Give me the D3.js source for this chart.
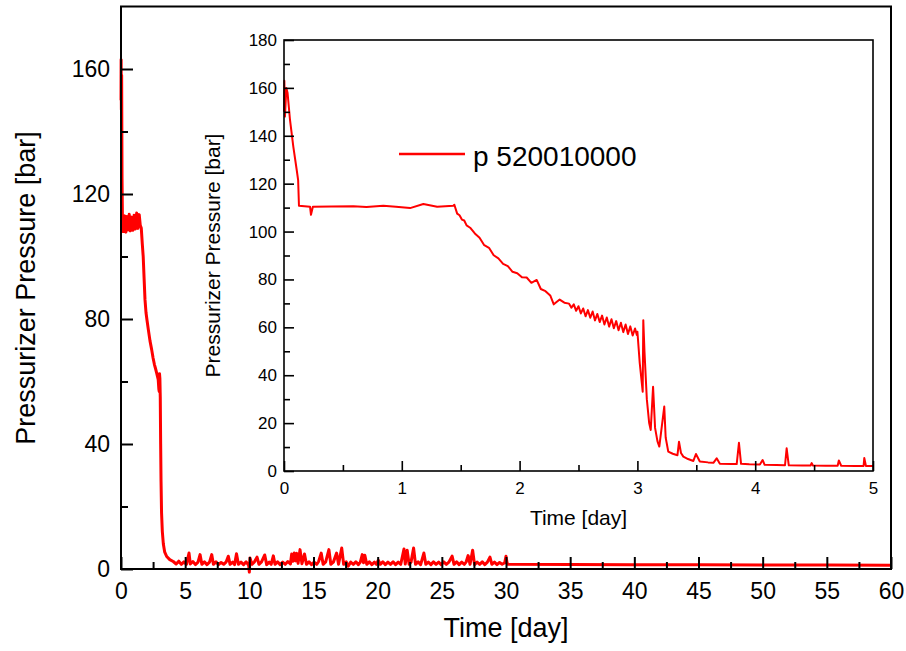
<!DOCTYPE html>
<html>
<head>
<meta charset="utf-8">
<script src="https://cdn.jsdelivr.net/npm/d3@7"></script>
<style>
  html, body { margin: 0; padding: 0; background: #fff; }
  svg { display: block; }
  text { font-family: "Liberation Sans", Arial, sans-serif; fill: #000; }
</style>
</head>
<body>
<svg id="chart" width="906" height="651"></svg>
<script>
// ---------------- DATA ----------------
const seriesName = "p 520010000";
const xTitle = "Time [day]";
const yTitle = "Pressurizer Pressure [bar]";

// main chart: full transient (0 - 60 days)
const mainTime = [
  0.00, 0.01, 0.03, 0.05, 0.08, 0.12,
  0.15, 0.22, 0.30, 0.38, 0.46, 0.55, 0.64, 0.72, 0.82, 0.92, 1.02, 1.12, 1.22, 1.32, 1.42, 1.50, 1.58,
  1.66, 1.73, 1.80, 1.87, 1.95, 2.03, 2.13, 2.26, 2.39, 2.50, 2.60, 2.70, 2.78, 2.85, 2.90, 2.95, 2.98,
  3.00, 3.03, 3.06, 3.09, 3.12, 3.16, 3.22, 3.30, 3.40, 3.56, 3.80, 4.07,
  4.3, 4.5, 4.7, 4.9, 5.1, 5.3, 5.4, 5.6, 5.8, 6.0, 6.16, 6.3, 6.5, 6.7, 6.9, 7.07, 7.2, 7.4, 7.6, 7.8,
  8.0, 8.2, 8.36, 8.5, 8.7, 8.85, 9.0, 9.15, 9.35, 9.55, 9.75, 9.95, 10.0, 10.05, 10.2, 10.4, 10.6, 10.75,
  10.95, 11.2, 11.35, 11.55, 11.7, 11.87, 12.0, 12.2, 12.4, 12.6, 12.8, 13.0, 13.2, 13.3, 13.4, 13.5, 13.6,
  13.7, 13.8, 13.95, 14.1, 14.3, 14.45, 14.65, 14.85, 15.05, 15.25, 15.4, 15.6, 15.75, 15.95, 16.2, 16.35,
  16.55, 16.8, 16.95, 17.2, 17.35, 17.55, 17.7, 17.9, 18.1, 18.3, 18.5, 18.65, 18.8, 18.9, 19.0, 19.15,
  19.35, 19.55, 19.75, 19.9, 20.05, 20.2, 20.4, 20.6, 20.8, 21.0, 21.2, 21.4, 21.6, 21.8, 22.05, 22.15,
  22.3, 22.45, 22.6, 22.8, 22.95, 23.15, 23.35, 23.6, 23.75, 23.95, 24.15, 24.35, 24.55, 24.75, 24.95,
  25.15, 25.35, 25.55, 25.8, 25.95, 26.15, 26.35, 26.55, 26.75, 26.9, 27.05, 27.2, 27.4, 27.55, 27.75,
  27.95, 28.15, 28.35, 28.55, 28.75, 28.9, 29.1, 29.3, 29.5, 29.7, 29.9, 30.0, 30.1,
  35, 40, 45, 50, 55, 60
];
const mainPressure = [
  150, 163, 147, 158, 125, 108,
  112.5, 108, 113, 107.8, 112.8, 108.5, 113.5, 108.2, 112.6, 108.4, 113.2, 108.8, 113.9, 109, 113.4, 110, 109.1,
  104, 100, 93, 86.2, 82, 79.5, 76.6, 73, 70.2, 67.5, 65.5, 64, 62.7, 61.5, 60.6, 57.5, 56.8,
  62.5, 61, 55, 40, 28, 18, 12, 8, 5.5, 4, 3.0, 2.4,
  1.6, 2.5, 1.5, 2.3, 1.5, 5.1, 1.6, 2.4, 1.4, 2.2, 4.6, 1.5, 2.3, 1.4, 2.2, 4.6, 1.5, 2.3, 1.4, 2.1,
  1.5, 2.3, 4.1, 1.5, 2.2, 1.4, 4.9, 1.5, 2.2, 1.4, 2.3, 1.2, -1.0, 3.5, 1.5, 2.3, 3.8, 1.5,
  2.3, 4.5, 1.4, 2.2, 1.5, 4.2, 1.5, 2.3, 1.4, 2.2, 1.5, 2.4, 1.6, 4.8, 2.5, 5.1, 2.6,
  5.0, 1.8, 6.2, 1.7, 4.8, 1.5, 2.3, 1.4, 2.2, 1.5, 2.4, 5.1, 1.5, 2.3, 6.2, 1.5,
  2.2, 5.1, 1.5, 6.7, 1.5, 2.3, 0.9, 2.2, 1.5, 2.3, 1.4, 2.2, 4.6, 2.0, 4.4, 1.5,
  2.3, 1.4, 2.2, 1.5, 2.8, 1.5, 2.3, 1.4, 2.2, 1.5, 2.3, 1.4, 2.2, 1.5, 6.4, 1.6,
  6.0, 1.5, 2.2, 6.7, 1.5, 2.3, 1.4, 5.1, 1.5, 2.2, 1.4, 2.3, 1.5, 2.2, 1.4,
  2.3, 1.5, 2.2, 4.1, 1.5, 2.3, 1.4, 2.2, 1.5, 2.3, 4.3, 1.5, 6.0, 1.4, 2.2,
  1.5, 2.3, 1.4, 2.2, 3.8, 1.5, 2.2, 1.4, 2.1, 1.5, 2.0, 4.1, 1.5,
  1.45, 1.4, 1.35, 1.3, 1.25, 1.2
];

// inset: first five days
const insetTime = [
  0.000, 0.003, 0.008, 0.020, 0.030, 0.051, 0.079, 0.108, 0.120, 0.127,
  0.221, 0.229, 0.245, 0.400, 0.589, 0.700, 0.843, 0.950, 1.070, 1.183, 1.300, 1.437,
  1.446, 1.470, 1.490, 1.510, 1.530, 1.550, 1.580, 1.620, 1.660, 1.700, 1.740, 1.780, 1.820, 1.860,
  1.900, 1.940, 1.980, 2.020, 2.060, 2.100, 2.145, 2.180, 2.220, 2.260, 2.290, 2.340, 2.380,
  2.420, 2.440, 2.460, 2.480, 2.500, 2.520, 2.540, 2.560, 2.580, 2.600, 2.620, 2.640, 2.660, 2.680,
  2.700, 2.720, 2.740, 2.760, 2.780, 2.800, 2.820, 2.840, 2.860, 2.880, 2.900, 2.920, 2.940, 2.960,
  2.980, 2.995,
  3.000, 3.020, 3.045, 3.050, 3.060, 3.080, 3.100, 3.113, 3.133, 3.150, 3.170, 3.186, 3.228, 3.240,
  3.262, 3.300, 3.340, 3.353, 3.370, 3.390, 3.430, 3.475, 3.497, 3.530, 3.600, 3.645, 3.673, 3.700,
  3.800, 3.843, 3.862, 3.880, 3.950, 4.040, 4.063, 4.080, 4.180, 4.253, 4.267, 4.285, 4.400, 4.470,
  4.479, 4.490, 4.600, 4.700, 4.710, 4.730, 4.850, 4.920, 4.926, 4.940, 5.000
];
const insetPressure = [
  150, 163, 148, 160, 158, 146.6, 135.5, 125.7, 121.5, 110.8,
  110.4, 107, 110.4, 110.5, 110.6, 110.3, 110.8, 110.4, 109.8, 111.5, 110.4, 110.8,
  111.2, 107.5, 106.8, 105.0, 104.6, 102.6, 101.6, 99.2, 97.4, 94.3, 93.2, 90.1, 88.8, 86.5,
  85.6, 83.2, 82.6, 80.9, 80.8, 78.6, 79.8, 76.0, 75.1, 73.3, 69.6, 71.6, 70.3,
  69.9, 68.2, 69.6, 66.9, 68.8, 65.8, 67.9, 64.6, 67.2, 64.0, 66.6, 62.9, 65.6, 62.2,
  64.9, 61.2, 64.1, 60.3, 63.4, 59.6, 62.6, 58.8, 61.9, 58.0, 61.2, 57.2, 60.4, 56.6,
  59.5, 56.8,
  58.2, 45, 33.1, 63, 50, 30, 20, 17.1, 35.2, 18, 12.5, 10.2, 26.9, 14,
  8.1, 7.2, 6.6, 12.2, 7.5, 6.0, 5.0, 4.2, 7.1, 4.0, 3.6, 3.4, 5.3, 3.0,
  2.9, 2.9, 11.8, 3.0, 2.8, 2.7, 4.6, 2.6, 2.5, 2.4, 9.5, 2.4, 2.3, 2.3,
  3.3, 2.3, 2.2, 2.2, 4.4, 2.2, 2.1, 2.1, 5.4, 2.1, 2.1
];

// tick values
const mainXTicks = [0, 5, 10, 15, 20, 25, 30, 35, 40, 45, 50, 55, 60];
const mainXMinor = [2.5, 7.5, 12.5, 17.5, 22.5, 27.5, 32.5, 37.5, 42.5, 47.5, 52.5, 57.5];
const mainYTicks = [0, 40, 80, 120, 160];
const mainYMinor = [20, 60, 100, 140];
const insetXTicks = [0, 1, 2, 3, 4, 5];
const insetXMinor = [0.5, 1.5, 2.5, 3.5, 4.5];
const insetYTicks = [0, 20, 40, 60, 80, 100, 120, 140, 160, 180];
const insetYMinor = [10, 30, 50, 70, 90, 110, 130, 150, 170];

// ---------------- DRAW ----------------
const svg = d3.select("#chart");
const RED = "#ff0000";

function drawAxes(g, x, y, o) {
  const [x0, x1] = x.range();
  const [y0, y1] = y.range();
  // minor ticks
  g.append("g").attr("transform", `translate(0,${y0})`)
    .call(d3.axisBottom(x).tickValues(o.xMinor).tickSize(-o.minor).tickFormat(""))
    .call(s => s.select(".domain").remove());
  g.append("g").attr("transform", `translate(${x0},0)`)
    .call(d3.axisLeft(y).tickValues(o.yMinor).tickSize(-o.minor).tickFormat(""))
    .call(s => s.select(".domain").remove());
  // major ticks with labels
  const gx = g.append("g").attr("transform", `translate(0,${y0})`)
    .call(d3.axisBottom(x).tickValues(o.xTicks).tickSize(-o.major).tickPadding(o.xPad).tickFormat(d3.format("d")));
  const gy = g.append("g").attr("transform", `translate(${x0},0)`)
    .call(d3.axisLeft(y).tickValues(o.yTicks).tickSize(-o.major).tickPadding(o.yPad).tickFormat(d3.format("d")));
  [gx, gy].forEach(a => {
    a.select(".domain").remove();
    a.selectAll("text").style("font-family", '"Liberation Sans", Arial, sans-serif')
      .style("font-size", o.font + "px").attr("fill", "#000");
  });
  g.selectAll(".tick line").attr("stroke", "#000").attr("stroke-width", o.sw);
  // frame
  g.append("rect")
    .attr("x", x0).attr("y", y1).attr("width", x1 - x0).attr("height", y0 - y1)
    .attr("fill", "none").attr("stroke", "#000").attr("stroke-width", o.sw);
}

// ---- main chart ----
const mx = d3.scaleLinear().domain([0, 60]).range([121, 891]);
const my = d3.scaleLinear().domain([0, 180]).range([569, 6.5]);
const gMain = svg.append("g");

const mainData = mainTime.map((t, i) => ({ t, p: mainPressure[i] }));
gMain.append("path")
  .datum(mainData)
  .attr("fill", "none").attr("stroke", RED).attr("stroke-width", 3).attr("stroke-linejoin", "round")
  .attr("d", d3.line().x(d => mx(d.t)).y(d => my(d.p)));

drawAxes(gMain, mx, my, {
  xTicks: mainXTicks, xMinor: mainXMinor, yTicks: mainYTicks, yMinor: mainYMinor,
  major: 12, minor: 7, xPad: 14, yPad: 11, font: 23, sw: 2
});

gMain.append("text").attr("x", 506).attr("y", 637).attr("text-anchor", "middle")
  .style("font-size", "27px").text(xTitle);
gMain.append("text").attr("transform", "translate(35,288) rotate(-90)").attr("text-anchor", "middle")
  .style("font-size", "27px").text(yTitle);

// ---- inset ----
const ix = d3.scaleLinear().domain([0, 5]).range([284, 873]);
const iy = d3.scaleLinear().domain([0, 180]).range([471, 40]);
const gIn = svg.append("g");
gIn.append("rect").attr("x", 284).attr("y", 40).attr("width", 589).attr("height", 431).attr("fill", "#fff");

const insetData = insetTime.map((t, i) => ({ t, p: insetPressure[i] }));
gIn.append("path")
  .datum(insetData)
  .attr("fill", "none").attr("stroke", RED).attr("stroke-width", 2).attr("stroke-linejoin", "round")
  .attr("d", d3.line().x(d => ix(d.t)).y(d => iy(d.p)));

drawAxes(gIn, ix, iy, {
  xTicks: insetXTicks, xMinor: insetXMinor, yTicks: insetYTicks, yMinor: insetYMinor,
  major: 10, minor: 6, xPad: 10.5, yPad: 7, font: 17, sw: 1.6
});

gIn.append("text").attr("x", 578.5).attr("y", 525).attr("text-anchor", "middle")
  .style("font-size", "21px").text(xTitle);
gIn.append("text").attr("transform", "translate(220,255.5) rotate(-90)").attr("text-anchor", "middle")
  .style("font-size", "21px").text(yTitle);

// legend
gIn.append("line").attr("x1", 399).attr("x2", 465).attr("y1", 154).attr("y2", 154)
  .attr("stroke", RED).attr("stroke-width", 2.5);
gIn.append("text").attr("x", 473).attr("y", 166).style("font-size", "28px").text(seriesName);
</script>
</body>
</html>
